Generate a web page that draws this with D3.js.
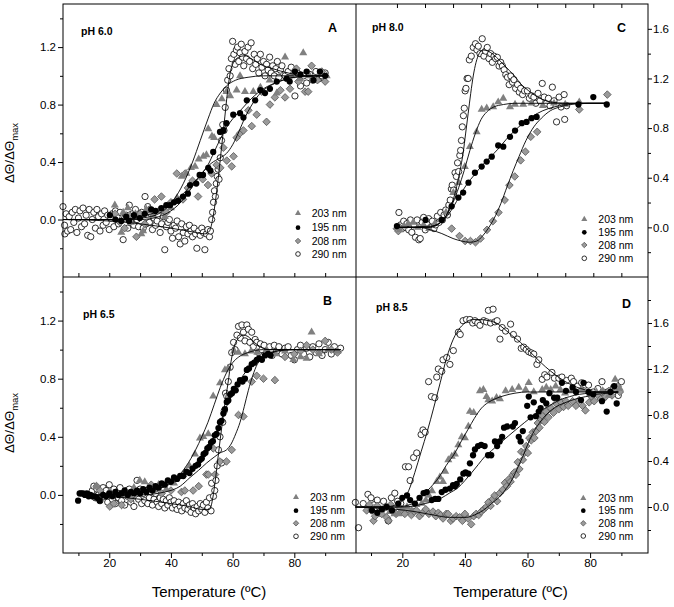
<!DOCTYPE html>
<html><head><meta charset="utf-8">
<script src="https://cdn.jsdelivr.net/npm/d3@7"></script>
<style>body{margin:0;background:#fff} svg{display:block} text{font-family:"Liberation Sans",Arial,sans-serif;fill:#000}</style>
</head><body><svg id="c" width="674" height="607"></svg>
<script>
// ---------- DATA (temperature °C, ΔΘ/ΔΘmax) ----------
const seriesNames = ["203 nm","195 nm","208 nm","290 nm"];
const yTickLabels = [0.0,0.4,0.8,1.2];
const yTickLabelsRight = [0.0,0.4,0.8,1.2,1.6];
const xTickLabels = [20,40,60,80];
const panelTitles = ["pH 6.0","pH 6.5","pH 8.0","pH 8.5"];
const panelLetters = ["A","B","C","D"];

// Panel A (pH 6.0)
const A_290 = [[5,0.09],[5.5,-0.04],[5.6,-0.1],[6,0.04],[6.5,-0.08],[7,0.02],[7.5,-0.07],[8,0.05],[8.5,-0.02],[9,0.07],[9.5,-0.09],[10,0.01],[10.5,0.06],[11,-0.05],[11.5,0.08],[12,-0.03],[12.5,0.03],[13,-0.11],[13.5,0.07],[14,-0.12],[14.5,0.0],[15,0.05],[15.5,-0.06],[16,0.07],[16.5,0.02],[17,-0.08],[17.5,0.04],[18,-0.04],[18.5,0.06],[19,-0.02],[19.5,0.03],[20,-0.07],[20.5,0.01],[21,0.04],[21.5,-0.05],[22,0.06],[22.5,0.02],[23,-0.03],[23.5,0.05],[24.5,-0.14],[25,0.01],[25.5,0.03],[26,-0.06],[26.5,0.1],[27,-0.02],[27.5,0.04],[28,-0.04],[28.5,0.07],[29,0.0],[29.5,-0.05],[30,0.02],[30.5,0.05],[31,-0.06],[31.6,0.16],[32,-0.03],[32.5,0.09],[33,-0.02],[33.5,0.04],[34,-0.07],[34.5,0.01],[35,-0.04],[35.5,-0.01],[36,0.03],[36.5,-0.09],[37,-0.03],[37.5,0.02],[38,-0.21],[38.5,-0.05],[39,-0.02],[39.5,0.0],[40,-0.08],[40.5,-0.13],[41,-0.04],[41.5,-0.06],[42,-0.01],[42.5,-0.12],[43,-0.17],[43.5,-0.03],[44,-0.09],[44.5,-0.15],[45,-0.05],[45.5,-0.1],[46,-0.04],[46.5,-0.08],[47,-0.12],[47.5,-0.06],[48,-0.1],[48.4,-0.2],[49,-0.08],[49.5,-0.11],[50,-0.06],[50.5,-0.09],[51,-0.21],[51.5,-0.1],[52,-0.07],[52.5,-0.12],[52.8,-0.08],[53.2,0.0],[53.5,0.05],[53.8,0.12],[54.1,0.2],[54.4,0.16],[54.7,0.25],[55,0.3],[55.3,0.35],[55.6,0.28],[56,0.43],[56.4,0.55],[56.8,0.66],[57.2,0.62],[57.6,0.78],[58,0.9],[58.4,0.97],[58.8,1.05],[59.2,1.0],[59.6,1.12],[60,1.24],[60.4,1.15],[60.8,1.08],[61.2,1.18],[61.6,1.2],[62,1.1],[62.4,1.16],[62.8,1.22],[63.2,1.13],[63.6,1.07],[64,1.17],[64.5,1.12],[65,1.2],[65.5,1.1],[66,1.23],[66.5,1.05],[67,1.15],[67.5,1.08],[68,1.12],[68.5,1.02],[69,1.15],[69.5,1.06],[70,1.1],[70.5,1.0],[71,1.08],[71.5,1.04],[72,1.13],[72.5,1.02],[73,1.07],[73.5,1.0],[74,1.05],[74.5,1.1],[75,0.99],[75.5,1.04],[76,1.07],[77,1.0],[78,1.03],[79,1.06],[80.2,0.86],[81,1.02],[82,0.93],[83,1.0],[84,0.95],[85,1.01],[86,0.97],[87,1.03],[88,0.98],[89,1.0],[90,1.02]];
const A_203 = [[21.8,0.10],[23.9,-0.09],[24.5,0.05],[26,0.08],[27,-0.02],[28.5,0.04],[30.4,-0.1],[31,-0.08],[32,0.07],[34,0.03],[36,0.06],[38,0.02],[40,0.08],[42,0.15],[43.5,0.3],[45,0.32],[46.5,0.36],[47.8,0.37],[49,0.42],[50.5,0.44],[51.5,0.45],[52.1,0.63],[53.3,0.58],[54,0.57],[54.8,0.80],[56.5,0.84],[58,0.89],[59.2,0.86],[61.3,0.90],[62.4,1.0],[64,0.89],[66.7,0.89],[69,0.92],[72,0.97],[74.3,0.88],[77,1.13],[79,1.0],[81.8,0.98],[82.9,1.16],[85,1.0],[88.3,1.02],[90.5,1.0]];
const A_195 = [[20.2,0.03],[22,0.0],[23.9,-0.01],[25.5,0.02],[26.4,-0.01],[28,0.03],[29.9,0.01],[31.5,0.04],[33.6,0.07],[35,0.06],[36.9,0.08],[38.5,0.1],[39.7,0.10],[41,0.12],[42.3,0.13],[43.9,0.16],[45.5,0.18],[46.2,0.24],[48.2,0.25],[49.3,0.31],[50.4,0.31],[52.1,0.36],[52.8,0.34],[53.7,0.47],[55.9,0.61],[57,0.62],[58,0.67],[60.2,0.73],[62.4,0.74],[63.5,0.71],[64.6,0.83],[67.3,0.83],[69,0.9],[70.5,0.88],[72.1,0.91],[74.3,0.96],[77.5,0.98],[78.5,0.96],[80.2,1.03],[82,1.01],[84,1.03],[86.2,0.97],[88.3,1.03],[90,1.0]];
const A_208 = [[21.9,0.04],[23.5,-0.02],[25,-0.06],[26.5,0.03],[28.8,-0.12],[30,0.04],[31.5,-0.03],[33,0.07],[34.7,0.14],[36.9,0.16],[38.5,0.05],[40,0.12],[41.9,0.32],[43.9,0.14],[44.6,0.32],[45.5,0.22],[47,0.27],[48.8,0.16],[50.3,0.28],[52,0.24],[53.2,0.32],[54.8,0.38],[56,0.36],[57,0.5],[58.1,0.41],[59.7,0.37],[60.3,0.44],[61.3,0.57],[62.4,0.6],[63.5,0.62],[65.1,0.76],[66.2,0.65],[67.8,0.73],[69.4,0.89],[71,0.68],[72.1,0.8],[73.7,0.85],[75.5,0.9],[77,0.85],[78.6,0.91],[80.7,1.05],[81.3,0.96],[83.5,0.89],[84.5,0.89],[85.6,1.07],[87.5,0.97],[88.9,1.03],[90,0.96]];
const fitA_203 = [[5,0],[20,0],[30,0.01],[35,0.03],[38,0.07],[41,0.14],[44,0.25],[47,0.4],[49.5,0.55],[52,0.7],[54,0.81],[56,0.88],[58,0.93],[61,0.97],[65,0.99],[70,1.0],[91,1.0]];
const fitA_195 = [[5,0],[25,0],[30,0.02],[35,0.05],[40,0.11],[44,0.18],[47,0.25],[50,0.32],[52,0.38],[54,0.47],[56,0.56],[58,0.64],[60,0.7],[63,0.77],[66,0.84],[70,0.91],[75,0.96],[80,0.99],[91,1.0]];
const fitA_208 = [[5,0],[30,0],[36,0.02],[40,0.06],[44,0.14],[47,0.23],[50,0.32],[53,0.39],[56,0.43],[58,0.46],[60,0.52],[62,0.61],[64,0.71],[66,0.79],[69,0.88],[73,0.94],[78,0.98],[85,1.0],[91,1.0]];
const fitA_290 = [[5,0],[20,-0.01],[30,-0.03],[40,-0.06],[48,-0.09],[51,-0.1],[52.5,-0.08],[53.5,0.0],[54.5,0.14],[55.5,0.32],[56.5,0.52],[57.5,0.72],[58.3,0.88],[59.2,1.02],[60.5,1.1],[62,1.13],[64,1.14],[66,1.12],[69,1.08],[73,1.05],[78,1.02],[84,1.0],[91,1.0]];

// Panel B (pH 6.5)
const B_290 = [[14.5,0.03],[15,0.06],[15.5,-0.02],[16,0.04],[16.5,0.0],[17,-0.04],[17.5,0.02],[18,0.05],[18.5,-0.01],[19,0.03],[19.5,-0.05],[20,0.07],[20.5,0.0],[21,-0.03],[21.5,0.04],[22,-0.06],[22.5,0.02],[23,-0.02],[23.5,0.05],[24,-0.04],[24.5,0.01],[25,-0.07],[25.5,0.03],[26,-0.01],[26.5,0.04],[27,-0.05],[27.5,0.0],[28,-0.08],[28.5,0.02],[29,0.1],[29.5,-0.03],[30,0.04],[30.5,-0.06],[31,0.01],[31.5,-0.04],[32,0.03],[32.5,-0.06],[33,-0.02],[33.5,0.02],[34,-0.07],[34.5,-0.03],[35,0.01],[35.5,-0.05],[36,-0.08],[36.5,-0.02],[37,-0.06],[37.5,-0.03],[38,-0.09],[38.5,-0.04],[39,-0.07],[39.5,-0.02],[40,-0.05],[40.5,-0.09],[41,-0.04],[41.5,-0.07],[42,-0.1],[42.5,-0.05],[43,-0.08],[43.5,-0.11],[44,-0.06],[44.5,-0.09],[45,-0.04],[45.5,-0.1],[46,-0.07],[46.5,-0.12],[47,-0.06],[47.5,-0.09],[48,-0.13],[48.5,-0.08],[49,-0.11],[49.5,-0.06],[50,-0.1],[50.5,-0.07],[51,-0.12],[51.5,-0.05],[52,-0.09],[52.5,-0.02],[53,-0.11],[53.2,0.08],[53.8,-0.01],[54.2,0.03],[54.6,0.1],[55,0.2],[55.4,0.31],[55.9,0.4],[56.4,0.22],[56.8,0.5],[57.3,0.58],[57.7,0.7],[58.1,0.68],[58.6,0.78],[59.2,0.88],[59.7,0.98],[60.3,1.05],[60.8,1.0],[61.4,1.1],[61.9,1.16],[62.5,1.08],[63,1.17],[63.5,1.12],[64,1.06],[64.6,1.17],[65.1,1.14],[65.6,1.05],[66.2,1.12],[66.7,1.02],[67.3,1.07],[67.8,1.05],[68.4,0.98],[69,1.04],[69.5,1.0],[70.2,1.03],[71,0.98],[72,1.02],[72.8,0.96],[73.5,1.03],[74.3,0.99],[75,1.02],[76,0.97],[77,1.01],[78,1.02],[79,0.96],[80,0.93],[81,1.0],[82,1.03],[83,0.97],[84,1.01],[85,0.95],[86,1.02],[87,0.98],[88,1.04],[89,0.96],[90,1.0],[91,1.05],[92,0.97],[93,1.02],[94,0.99],[95,1.01]];
const B_203 = [[15.8,0.06],[20,0.02],[24,0.0],[28,0.05],[29.9,0.1],[31.5,0.09],[34,0.03],[36,0.07],[38.5,0.04],[41,0.08],[44,0.14],[46,0.2],[47.8,0.28],[49.4,0.39],[50.5,0.40],[52.1,0.42],[53.7,0.68],[55.9,0.77],[57.5,0.86],[58.6,0.87],[60.5,0.99],[61.9,0.98],[64,0.97],[66,0.99],[68,0.98],[71,1.0],[74,0.97],[77,0.99],[79.7,0.93],[82,0.95],[84,0.94],[85.6,1.12],[88,0.97],[91,1.0],[94,0.99]];
const B_195 = [[9.9,-0.04],[10.4,0.01],[10.9,0.01],[11.5,0.01],[12.1,0.0],[12.7,0.01],[13.3,-0.01],[13.9,0.0],[14.5,-0.01],[15.2,-0.01],[16,-0.02],[16.9,-0.04],[18,0.0],[19,-0.01],[20,0.01],[21,-0.01],[22,0.02],[23,0.0],[24,0.01],[25,0.03],[26,0.0],[27,0.02],[28,0.01],[29,0.03],[30,0.01],[31,0.04],[32,0.02],[33,0.05],[34,0.03],[35,0.06],[36,0.05],[37,0.08],[38,0.07],[39,0.1],[40,0.09],[41,0.12],[42,0.11],[43,0.13],[44,0.13],[45,0.16],[46,0.15],[47,0.18],[48,0.2],[48.8,0.21],[49.4,0.24],[50,0.25],[50.6,0.28],[51.2,0.29],[51.8,0.32],[52.4,0.33],[53,0.36],[53.6,0.37],[54.2,0.41],[54.8,0.42],[55.4,0.46],[55.9,0.5],[56.4,0.51],[57,0.56],[57.5,0.59],[58.1,0.64],[58.6,0.65],[59.2,0.69],[59.8,0.7],[60.4,0.73],[61,0.72],[61.6,0.76],[62.4,0.79],[63.2,0.78],[64,0.8],[64.6,0.86],[65.3,0.87],[66.2,0.9],[67,0.91],[67.8,0.93],[68.6,0.94],[69.5,0.93],[70.5,0.96],[71.5,0.97],[72.3,0.96]];
const B_208 = [[15.9,0.06],[17,0.03],[20.2,-0.08],[21.5,-0.06],[24,-0.07],[27,-0.03],[30,0.02],[33.6,0.07],[35,0.04],[37,0.01],[40,0.03],[43.4,0.02],[44.5,0.03],[47.2,0.03],[49,0.06],[51.5,0.14],[52.1,0.14],[53.7,0.32],[54.3,0.14],[55.9,0.23],[58,0.23],[59.7,0.31],[61.9,0.55],[63.5,0.54],[66.2,0.78],[67.8,0.82],[70,0.80],[73.7,0.79],[77,0.95],[80,0.97],[82,0.99],[84,1.03],[86,1.0],[88,0.98],[90,1.06],[92,1.0],[94,0.98]];
const fitB_203 = [[10,0],[25,0],[32,0.02],[38,0.06],[42,0.12],[45,0.2],[48,0.31],[50,0.4],[52,0.5],[54,0.62],[56,0.74],[58,0.84],[60,0.91],[62,0.95],[65,0.98],[70,1.0],[95,1.0]];
const fitB_195 = [[10,0],[25,0],[32,0.02],[37,0.05],[42,0.1],[46,0.16],[49,0.23],[51.5,0.31],[53.5,0.38],[55.5,0.47],[57.5,0.58],[59.5,0.68],[61.5,0.76],[64,0.84],[67,0.91],[70,0.96],[74,0.99],[80,1.0],[95,1.0]];
const fitB_208 = [[10,0],[30,0],[38,0.02],[43,0.06],[46.2,0.12],[49,0.17],[51.6,0.22],[54,0.26],[56,0.29],[58,0.31],[59.5,0.35],[61,0.42],[62.4,0.5],[63.8,0.61],[65.1,0.72],[66.5,0.82],[68,0.9],[70,0.95],[73,0.98],[78,1.0],[95,1.0]];
const fitB_290 = [[10,0],[20,-0.01],[30,-0.03],[40,-0.06],[46,-0.08],[50,-0.1],[52.5,-0.1],[53.5,-0.03],[54.5,0.12],[55.5,0.3],[56.5,0.47],[57.5,0.63],[58.5,0.77],[59.5,0.92],[60.5,1.02],[62,1.08],[63.5,1.1],[65,1.09],[67,1.05],[69,1.02],[72,1.0],[80,1.0],[95,1.0]];

// Panel C (pH 8.0)
const C_290 = [[10.7,0.12],[11.3,0.02],[11.8,-0.01],[12.4,0.05],[13,0.0],[13.6,0.03],[14.2,-0.02],[14.8,0.06],[15.3,-0.04],[16,0.02],[16.6,-0.08],[17.2,0.06],[17.8,-0.1],[18.3,-0.09],[19,0.04],[19.5,0.08],[20.1,-0.02],[20.7,0.03],[21.3,0.07],[22,0.0],[22.6,0.05],[23.2,-0.01],[23.8,0.02],[24.4,0.09],[25,0.04],[25.6,0.12],[26.2,0.06],[26.8,0.1],[27.4,0.14],[28,0.1],[28.5,0.18],[29,0.22],[29.4,0.31],[29.7,0.34],[30.2,0.3],[30.7,0.44],[31.2,0.41],[31.6,0.52],[32,0.45],[32.4,0.58],[32.7,0.62],[33,0.7],[33.3,0.81],[33.7,0.9],[34,0.96],[34.3,1.1],[34.6,1.12],[35,1.2],[35.4,1.2],[35.8,1.35],[36.5,1.38],[37.2,1.45],[38,1.48],[38.5,1.43],[39,1.46],[39.6,1.4],[40.4,1.52],[41,1.38],[41.6,1.42],[42.2,1.45],[42.8,1.36],[43.4,1.4],[44,1.33],[44.6,1.38],[45.2,1.36],[45.8,1.37],[46.4,1.3],[47,1.33],[47.6,1.3],[48.2,1.27],[48.8,1.23],[49.4,1.21],[50,1.15],[50.6,1.22],[51.2,1.17],[51.7,1.19],[52.3,1.12],[53,1.15],[53.6,1.09],[54.1,1.12],[54.8,1.07],[55.5,1.1],[56.5,1.1],[57.2,1.04],[58,1.06],[58.8,1.05],[59.5,1.0],[60.3,1.08],[61,1.02],[61.8,1.16],[62.5,1.05],[63.3,1.0],[64,1.04],[64.6,0.98],[65.4,1.13],[66,1.02],[66.9,0.85],[67.8,1.05],[68.5,0.97],[69.6,1.07],[69.8,0.87],[70.5,0.98]];
const C_203 = [[10,0.0],[11,-0.02],[12.5,0.01],[14,0.03],[15.8,0.04],[17.5,0.0],[19.5,0.02],[21.5,-0.01],[23.5,0.03],[25.5,0.06],[27.5,0.12],[30.1,0.28],[32,0.36],[34.2,0.49],[36,0.65],[38.4,0.77],[40.2,0.95],[42,0.96],[44.3,0.97],[46.1,1.01],[47.9,1.04],[50.3,0.97],[52.1,0.99],[55,0.99],[58,1.0],[62,0.98],[66,1.0],[70,0.99],[75,1.01]];
const C_195 = [[10,0.01],[20.2,0.06],[26,0.06],[29.5,0.17],[31.9,0.24],[33.6,0.28],[35.5,0.36],[37.8,0.44],[40.2,0.49],[42,0.53],[43.8,0.57],[46.1,0.66],[47.9,0.65],[50.3,0.73],[52.1,0.78],[54.5,0.84],[56.2,0.85],[58,0.88],[59.8,0.89],[74.7,0.99],[80,1.05],[84.8,0.99]];
const C_208 = [[10,-0.01],[10.5,-0.03],[11,0.0],[29.5,-0.01],[32.3,-0.07],[34.3,-0.11],[36.2,-0.11],[38,-0.12],[39.8,-0.09],[42.1,-0.02],[44.2,0.05],[46.2,0.12],[48.4,0.22],[50.1,0.34],[52,0.41],[54.1,0.54],[55.8,0.61],[57.7,0.73],[60,0.77],[75,0.95],[85,1.07]];
const fitC_203 = [[10,0],[22,0],[25,0.03],[27.5,0.09],[30,0.2],[32,0.32],[34,0.46],[36,0.62],[38,0.76],[40,0.87],[42,0.93],[44.5,0.97],[48,0.99],[52,1.0],[85,1.0]];
const fitC_195 = [[10,0],[22,0.01],[25,0.03],[27.5,0.08],[30,0.16],[32.5,0.26],[35,0.35],[37.5,0.42],[40,0.49],[43,0.56],[46,0.63],[49,0.71],[52,0.78],[55,0.84],[58,0.89],[62,0.94],[66,0.97],[70,0.99],[75,1.0],[85,1.0]];
const fitC_208 = [[10,0],[18,0],[22,-0.02],[26,-0.05],[30,-0.09],[33,-0.11],[36,-0.12],[38.5,-0.11],[40.5,-0.07],[42.5,-0.01],[44.6,0.07],[47,0.19],[49.3,0.33],[51.5,0.46],[53.5,0.57],[56,0.7],[58.8,0.81],[61.5,0.88],[64.7,0.94],[68,0.97],[72,0.99],[78,1.0],[85,1.0]];
const fitC_290 = [[10,0],[20,0],[24,0.02],[26.5,0.06],[28.3,0.13],[30,0.22],[31.3,0.33],[32.5,0.46],[33.6,0.6],[34.5,0.76],[35.4,0.92],[36.3,1.08],[37.2,1.22],[38.2,1.33],[39.3,1.4],[40.7,1.43],[42.5,1.42],[45.5,1.37],[48.5,1.3],[51.5,1.23],[54,1.16],[57,1.1],[61,1.04],[65,1.01],[70,1.0],[85,1.0]];

// Panel D (pH 8.5)
const D_290 = [[5,0.04],[6,-0.18],[7.5,0.03],[9,0.11],[10,0.08],[11,0.02],[12,0.06],[13,-0.03],[14,0.05],[15,0.0],[15.5,-0.12],[16.5,0.08],[17.6,0.12],[18.5,0.05],[19.5,0.03],[21,0.35],[22,0.35],[22.5,0.23],[23.6,0.43],[24.6,0.47],[26,0.63],[26.6,0.67],[27.3,0.65],[28.4,1.09],[29.3,0.96],[30.4,0.95],[31,1.13],[31.5,1.2],[32.6,1.18],[33,1.28],[34.2,1.3],[35.2,1.24],[36.3,1.36],[37.9,1.52],[38.5,1.5],[39.4,1.62],[40.5,1.63],[41.6,1.63],[42.5,1.6],[43.2,1.62],[44.1,1.6],[44.8,1.58],[46,1.62],[46.9,1.61],[47.5,1.71],[48.2,1.6],[49,1.72],[49.6,1.61],[50.3,1.62],[51.2,1.46],[51.9,1.56],[53,1.53],[54.6,1.59],[55.5,1.5],[56.8,1.46],[58,1.38],[58.8,1.39],[59.6,1.37],[60.4,1.35],[61.2,1.34],[62,1.33],[63,1.24],[63.6,1.28],[64.7,1.11],[65.5,1.15],[66.2,1.13],[67.8,1.17],[68.6,1.12],[70,1.12],[71,1.13],[72.5,1.1],[74,1.12],[74.7,1.09],[76,1.05],[77.3,1.08],[78.5,1.06],[79.5,1.06],[81,1.0],[82.5,1.03],[83.8,1.09],[84.3,0.95],[85.5,1.0],[86.5,0.98],[87.5,1.04],[89,0.97],[90,1.09]];
const D_203 = [[16,-0.04],[17.5,-0.06],[18.8,-0.06],[20,-0.02],[21.5,0.0],[23,-0.03],[24.5,0.02],[26.2,0.03],[27.5,0.06],[28.5,0.1],[29.5,0.14],[31,0.22],[32,0.26],[33,0.22],[33.7,0.31],[34.7,0.41],[35.8,0.44],[36.8,0.46],[37.9,0.54],[39,0.61],[40,0.6],[41.1,0.70],[41.6,0.83],[42.8,0.82],[44.8,1.01],[45.9,1.02],[46.9,0.96],[47.5,0.93],[48.7,0.92],[50.1,0.95],[51.2,0.94],[53,1.01],[55.1,1.02],[57.2,1.04],[59.4,1.02],[60.4,1.08],[62,1.0],[64.7,1.02],[66,1.04],[67.4,1.02],[69,1.05],[70.5,1.02],[72,0.99],[74,1.01],[77.4,1.02],[80,0.98],[82,1.0],[84,1.01],[86,0.97],[88,1.11],[89.5,1.03]];
const D_195 = [[10.3,-0.03],[12,-0.05],[13.5,-0.02],[15,0.0],[16.7,-0.03],[18.7,0.03],[20,0.08],[21.5,0.1],[22.5,0.06],[24,0.03],[25.5,0.08],[26.8,0.12],[27.8,0.13],[29.4,0.06],[30.5,0.07],[31.5,0.07],[32.6,0.13],[33.8,0.15],[35.2,0.16],[36.2,0.19],[36.8,0.18],[37.4,0.2],[38.5,0.24],[39.5,0.29],[40.2,0.3],[41.1,0.29],[41.6,0.38],[42.6,0.45],[43.2,0.5],[44.2,0.53],[45.2,0.54],[46.3,0.53],[47.4,0.45],[48.4,0.45],[49.6,0.57],[50.3,0.53],[51.1,0.57],[51.9,0.61],[52.5,0.69],[53.5,0.7],[55.3,0.7],[56,0.73],[57.2,0.61],[57.8,0.57],[58.5,0.66],[59.9,0.88],[60.4,0.96],[61,0.78],[62,0.91],[62.7,0.79],[63.6,0.83],[64.2,0.86],[64.9,0.93],[66,0.9],[67,0.99],[68.5,0.95],[69.5,0.95],[71,1.08],[72.3,1.01],[74.4,1.04],[75.5,1.0],[77.1,0.93],[77.9,1.08],[79.5,1.0],[81,0.98],[83.8,0.92],[85.3,0.83],[86.5,1.0],[87.7,1.05],[88.5,0.9]];
const D_208 = [[8.6,-0.03],[9.5,0.02],[10.2,-0.03],[10.8,-0.12],[11.3,-0.08],[12,0.01],[12.7,-0.05],[13.4,-0.06],[14.2,-0.01],[15,-0.09],[15.6,-0.12],[16.3,0.02],[17,-0.04],[18,-0.06],[19,0.0],[20,-0.03],[20.8,-0.06],[21.8,-0.02],[22.9,-0.07],[23.8,-0.04],[24.5,-0.03],[25.5,-0.08],[26.5,-0.05],[27.5,-0.02],[28.5,-0.06],[29.8,-0.04],[30.7,-0.08],[31.5,-0.05],[32.2,-0.07],[33,-0.1],[34,-0.06],[34.6,-0.06],[35.5,-0.12],[36.2,-0.1],[37.2,-0.08],[38.3,-0.09],[39.2,-0.12],[40,-0.06],[41,-0.1],[42,-0.15],[42.8,-0.08],[43.6,-0.06],[44.4,-0.07],[45.2,-0.04],[46,-0.02],[46.8,0.0],[47.5,0.04],[48.2,0.01],[48.9,0.07],[49.5,0.1],[50.3,0.05],[51.1,0.12],[52.1,0.15],[52.8,0.21],[53.4,0.18],[54,0.24],[54.6,0.22],[55.3,0.28],[55.8,0.3],[56.3,0.28],[56.9,0.39],[57.4,0.33],[58,0.48],[58.5,0.41],[59,0.47],[59.6,0.53],[60.1,0.47],[60.6,0.6],[61.2,0.58],[61.7,0.65],[62.2,0.6],[62.7,0.66],[63.3,0.73],[63.8,0.69],[64.4,0.76],[64.9,0.79],[65.4,0.74],[65.9,0.83],[66.7,0.78],[67.5,0.86],[68.3,0.82],[69.1,0.9],[70,0.85],[70.8,0.91],[71.5,0.87],[72.3,0.92],[73,0.88],[74.4,0.92],[75.5,0.88],[76.5,0.93],[77.6,0.88],[78.5,0.84],[79.7,0.91],[80.5,0.96],[81.3,0.92],[82.5,0.97],[83.4,0.94],[84.3,1.0],[85,0.96],[86,1.01],[87,0.97],[88.2,1.02],[88.8,1.05],[89.5,1.0]];
const fitD_203 = [[5,0],[18,0],[21,0.01],[24,0.04],[26.2,0.09],[29,0.17],[31.5,0.25],[34,0.36],[36.8,0.47],[39,0.58],[41.1,0.68],[43,0.77],[45.3,0.86],[47.5,0.91],[49.6,0.94],[52.8,0.97],[56,0.99],[60,1.0],[89,1.0]];
const fitD_195 = [[5,0],[20,0],[24,0.01],[27.3,0.03],[30,0.05],[32.6,0.08],[35,0.12],[37.9,0.17],[40,0.23],[42.2,0.3],[44.3,0.37],[46.4,0.44],[48.5,0.49],[50.6,0.54],[54,0.62],[57.5,0.7],[60.7,0.77],[63.8,0.83],[67,0.88],[70.2,0.93],[73.5,0.96],[76.6,0.98],[80,0.99],[85,1.0],[89,1.0]];
const fitD_208 = [[5,0],[12,-0.01],[18,-0.02],[24,-0.04],[30,-0.07],[35,-0.09],[40.4,-0.09],[43,-0.07],[45.8,-0.03],[48.5,0.03],[51.1,0.09],[53.2,0.16],[55.3,0.25],[57,0.35],[58.5,0.44],[60,0.54],[61.7,0.64],[63.8,0.73],[65.9,0.8],[68.5,0.86],[72.3,0.91],[75.5,0.94],[78.6,0.96],[82,0.98],[86,0.99],[89,1.0]];
const fitD_290 = [[5,0],[14,0],[17,0.01],[19,0.03],[20.5,0.07],[22,0.14],[24,0.3],[26,0.48],[28,0.66],[30,0.86],[32.1,1.08],[34.2,1.3],[36.3,1.46],[38.5,1.56],[40.5,1.61],[42.5,1.63],[45,1.63],[47.5,1.62],[50,1.6],[52.5,1.55],[55.1,1.49],[57.8,1.43],[60.4,1.36],[63,1.29],[65.7,1.22],[68.9,1.15],[71.5,1.1],[74.2,1.06],[77,1.03],[80,1.01],[84,1.0],[89,1.0]];

// ---------- LAYOUT ----------
const svg = d3.select("#c");
const FONT = '"Liberation Sans",Arial,sans-serif';
const panels = [
  {key:"A", box:[63,356,4,277], xd:[5,100], yd:[-0.4,1.5], side:"left",
   data:[A_290,A_208,A_203,A_195], fits:[fitA_203,fitA_195,fitA_208,fitA_290],
   title:[81,35], letter:[328,32], legend:[298,311.7,[213.3,227.7,241,254]]},
  {key:"B", box:[63,356,277,553], xd:[5,100], yd:[-0.4,1.5], side:"left",
   data:[B_290,B_208,B_203,B_195], fits:[fitB_203,fitB_195,fitB_208,fitB_290],
   title:[83,318], letter:[323,305], legend:[296,310,[497.3,510.7,523.3,536.3]]},
  {key:"C", box:[356,648,4,277], xd:[-4.6,99.5], yd:[-0.4,1.8], side:"right",
   data:[C_290,C_208,C_203,C_195], fits:[fitC_203,fitC_195,fitC_208,fitC_290],
   title:[372,31], letter:[617,32], legend:[584.3,598.3,[219.3,232.3,245,258.3]]},
  {key:"D", box:[356,648,277,553], xd:[5.2,98.5], yd:[-0.4,2.0], side:"right",
   data:[D_290,D_208,D_203,D_195], fits:[fitD_203,fitD_195,fitD_208,fitD_290],
   title:[376,311], letter:[622,308], legend:[583.3,598.3,[498.3,510.7,523.3,536]]}
];

// marker styles: order 290, 208, 203, 195
const triangle = d3.symbol().type(d3.symbolTriangle).size(28)();
const triangleS = d3.symbol().type(d3.symbolTriangle).size(16)();
const diamond = d3.symbol().type(d3.symbolSquare).size(29)();
const diamondS = d3.symbol().type(d3.symbolSquare).size(15)();
const circ = d3.symbol().type(d3.symbolCircle).size(31)();
const circS = d3.symbol().type(d3.symbolCircle).size(17)();
const styles = [
  {d:circ, ds:circS, fill:"#fff", stroke:"#000", sw:0.8, rot:0},
  {d:diamond, ds:diamondS, fill:"#9a9a9a", stroke:"#4d4d4d", sw:0.7, rot:45},
  {d:triangle, ds:triangleS, fill:"#808080", stroke:"none", sw:0, rot:0},
  {d:circ, ds:circS, fill:"#000", stroke:"none", sw:0, rot:0}
];
const legendStyleIdx = [2,3,1,0]; // 203,195,208,290

panels.forEach((p,pi)=>{
  const [x0,x1,y0,y1] = p.box;
  const x = d3.scaleLinear().domain(p.xd).range([x0,x1]);
  const y = d3.scaleLinear().domain(p.yd).range([y1,y0]);
  const g = svg.append("g");

  const yMaj = p.side==="left" ? yTickLabels : yTickLabelsRight;
  const yMin = d3.range(-0.2, p.yd[1]-0.05, 0.4).map(v=>+v.toFixed(1));
  if(p.side==="left"){
    g.append("g").attr("transform",`translate(${x0},0)`)
      .call(d3.axisLeft(y).tickValues(yMaj).tickSize(5).tickPadding(2).tickFormat(d3.format(".1f")));
    g.append("g").attr("transform",`translate(${x0},0)`)
      .call(d3.axisLeft(y).tickValues(yMin).tickSize(3).tickFormat(""));
  } else {
    g.append("g").attr("transform",`translate(${x1},0)`)
      .call(d3.axisRight(y).tickValues(yMaj).tickSize(4).tickPadding(1).tickFormat(d3.format(".1f")));
    g.append("g").attr("transform",`translate(${x1},0)`)
      .call(d3.axisRight(y).tickValues(yMin).tickSize(3).tickFormat(""));
  }
  const xAll = d3.range(10,100,10);
  if(p.key==="B"||p.key==="D"){
    g.append("g").attr("transform",`translate(0,${y1})`)
      .call(d3.axisBottom(x).tickValues(xTickLabels).tickSize(5).tickPadding(1).tickFormat(d3.format("d")));
    g.append("g").attr("transform",`translate(0,${y1})`)
      .call(d3.axisBottom(x).tickValues(xAll.filter(v=>v%20)).tickSize(3).tickFormat(""));
  } else {
    g.append("g").attr("transform",`translate(0,${y1})`)
      .call(d3.axisTop(x).tickValues(xAll).tickSize(4).tickFormat(""));
    if(p.key==="C"){
      g.append("g").attr("transform",`translate(0,${y0})`)
        .call(d3.axisBottom(x).tickValues(xAll).tickSize(4).tickFormat(""));
    }
  }
  g.selectAll(".domain").remove();
  g.selectAll(".tick line").attr("stroke","#000").attr("stroke-width",1);
  g.selectAll(".tick text").attr("font-family",FONT).attr("font-size",11.5).attr("fill","#000");

  const pts = g.append("g");
  p.data.forEach((arr,si)=>{
    const st = styles[si];
    pts.append("g").selectAll("path").data(arr).join("path")
      .attr("d", st.d)
      .attr("transform", d=>`translate(${x(d[0])},${y(d[1])}) rotate(${st.rot})`)
      .attr("fill", st.fill).attr("stroke", st.stroke).attr("stroke-width", st.sw);
  });
  const line = d3.line().x(d=>x(d[0])).y(d=>y(d[1])).curve(d3.curveMonotoneX);
  p.fits.forEach(f=>{
    g.append("path").datum(f).attr("d",line).attr("fill","none").attr("stroke","#000").attr("stroke-width",0.9);
  });

  g.append("text").attr("x",p.title[0]).attr("y",p.title[1]).attr("font-size",10.5).attr("font-weight","bold").text(panelTitles[panelLetters.indexOf(p.key)]);
  g.append("text").attr("x",p.letter[0]).attr("y",p.letter[1]).attr("font-size",12.5).attr("font-weight","bold").text(p.key);

  const [mx,tx,rows] = p.legend;
  seriesNames.forEach((nm,i)=>{
    const st = styles[legendStyleIdx[i]];
    g.append("path").attr("d",st.ds).attr("transform",`translate(${mx},${rows[i]}) rotate(${st.rot})`)
      .attr("fill",st.fill).attr("stroke",st.stroke).attr("stroke-width",st.sw);
    g.append("text").attr("x",tx).attr("y",rows[i]).attr("dy","0.36em").attr("font-size",10.5).text(nm);
  });
});

svg.append("rect").attr("x",63).attr("y",4).attr("width",585).attr("height",549).attr("fill","none").attr("stroke","#000").attr("stroke-width",1);
svg.append("line").attr("x1",356).attr("x2",356).attr("y1",4).attr("y2",553).attr("stroke","#000");
svg.append("line").attr("x1",63).attr("x2",648).attr("y1",277).attr("y2",277).attr("stroke","#000");

function yTitle(cy){
  const t = svg.append("text").attr("transform",`translate(14,${cy}) rotate(-90)`).attr("text-anchor","middle").attr("font-size",13.5);
  t.append("tspan").text("ΔΘ/ΔΘ");
  t.append("tspan").attr("font-size",9.5).attr("dy",4).text("max");
}
yTitle(153); yTitle(423);
svg.append("text").attr("x",209).attr("y",597).attr("text-anchor","middle").attr("font-size",15).text("Temperature (ºC)");
svg.append("text").attr("x",510.5).attr("y",597).attr("text-anchor","middle").attr("font-size",15).text("Temperature (ºC)");
</script></body></html>
